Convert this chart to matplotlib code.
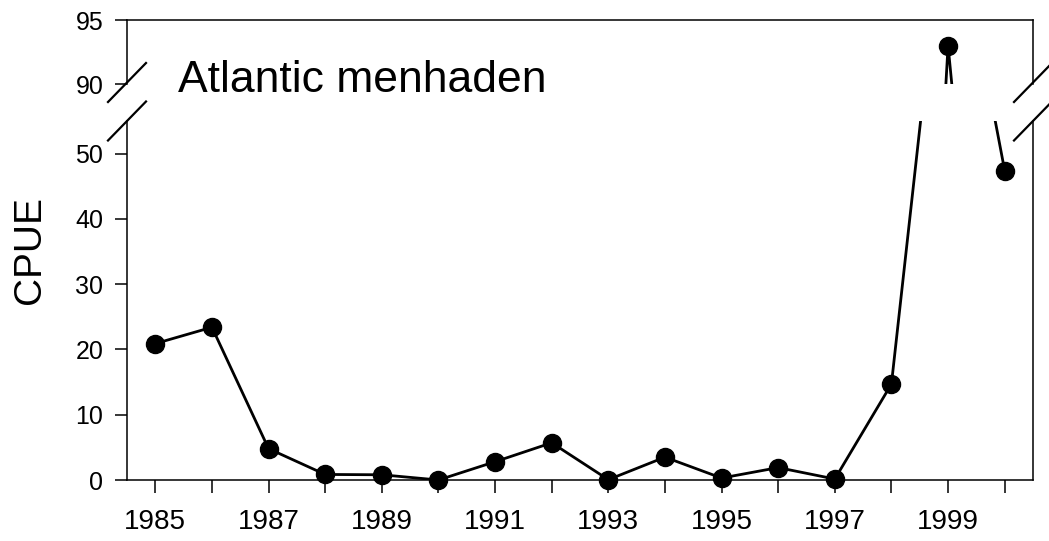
import matplotlib
matplotlib.use("Agg")
import matplotlib.pyplot as plt
from matplotlib.lines import Line2D
import numpy as np

plt.rcParams["font.family"] = ["Liberation Sans", "DejaVu Sans"]

years = np.arange(1985, 2001)
cpue = np.array([20.9, 23.4, 4.8, 0.85, 0.8, 0.0, 2.8, 5.7,
                 0.05, 3.5, 0.3, 1.9, 0.15, 14.7, 93.0, 47.4])
xtick_labels = [str(y) if y % 2 == 1 else "" for y in years]
low_ticks = [0, 10, 20, 30, 40, 50]
high_ticks = [90, 95]
title = "Atlantic menhaden"
ylabel = "CPUE"

W, H = 1049, 541
fig = plt.figure(figsize=(W / 100, H / 100), dpi=100)
left_px, right_px = 127, 1033
ax_top = fig.add_axes([left_px / W, (H - 84) / H, (right_px - left_px) / W, 64 / H])
ax_bot = fig.add_axes([left_px / W, (H - 480) / H, (right_px - left_px) / W, 359 / H])

for ax, lo, hi, ticks in [(ax_bot, 0, 55, low_ticks), (ax_top, 90, 95, high_ticks)]:
    ax.plot(years, cpue, color="black", lw=2.0, zorder=2)
    shown = np.ma.masked_outside(cpue, lo, hi)
    ax.plot(years, shown, "o", color="black", ms=13, clip_on=False, zorder=3)
    ax.set_xlim(1984.5, 2000.5)
    ax.set_ylim(lo, hi)
    ax.set_yticks(ticks)
    ax.tick_params(axis="y", direction="out", length=9, width=1.1,
                   labelsize=18, pad=8)
    for s in ax.spines.values():
        s.set_linewidth(1.1)

ax_bot.spines["top"].set_visible(False)
ax_top.spines["bottom"].set_visible(False)
ax_top.set_xticks([])

ax_bot.set_xticks(years)
ax_bot.set_xticklabels(xtick_labels)
ax_bot.tick_params(axis="x", direction="out", length=9, width=1.1,
                   labelsize=20, pad=12)

# y label centred on both panels together
fig.text(30 / W, (H - 250) / H, ylabel, fontsize=28, rotation=90,
         ha="center", va="center")
fig.text(178 / W, (H - 92) / H, title, fontsize=32, va="baseline", ha="left")

# break marks
for cx in (left_px, right_px):
    for cy in (82.5, 121):
        fig.add_artist(Line2D([(cx - 19) / W, (cx + 19) / W],
                              [(H - cy - 19.5) / H, (H - cy + 19.5) / H],
                              color="black", lw=1.6, transform=fig.transFigure))

fig.savefig("out.png", dpi=100)
